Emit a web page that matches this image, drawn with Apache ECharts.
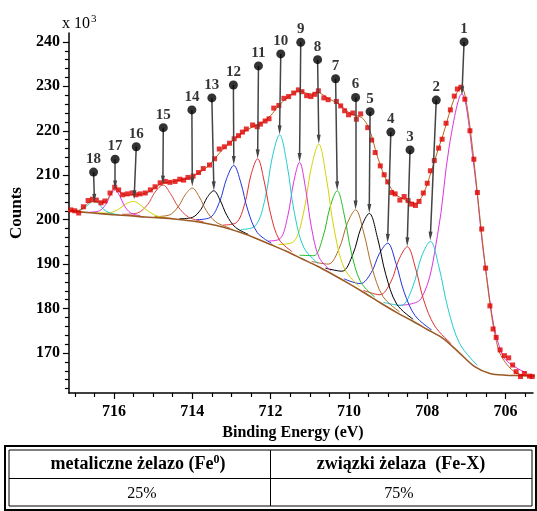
<!DOCTYPE html>
<html>
<head>
<meta charset="utf-8">
<script src="https://cdn.jsdelivr.net/npm/echarts@6/dist/echarts.min.js"></script>
<style>
html,body{margin:0;padding:0;background:#fff;}
#c{width:537px;height:511px;}
</style>
</head>
<body>
<div id="c"></div>
<script>
// ---------- data ----------
const xMajor = [706, 708, 710, 712, 714, 716];
const xMinor = [705.5, 706.5, 707, 707.5, 708.5, 709, 709.5, 710.5, 711, 711.5, 712.5, 713, 713.5, 714.5, 715, 715.5, 716.5, 717];
const yMajor = [170, 180, 190, 200, 210, 220, 230, 240];
const yMinor = [162, 164, 166, 168, 172, 174, 176, 178, 182, 184, 186, 188, 192, 194, 196, 198, 202, 204, 206, 208, 212, 214, 216, 218, 222, 224, 226, 228, 232, 234, 236, 238];

// background (Shirley) curve
const bgEV  = [717.2, 716.8, 716.4, 716.0, 715.6, 715.2, 714.8, 714.4, 714.0, 713.6, 713.2, 712.8, 712.4, 712.0, 711.6, 711.2, 710.8, 710.4, 710.0, 709.6, 709.2, 708.8, 708.4, 708.0, 707.6, 707.2, 706.8, 706.4, 706.0, 705.6, 705.2];
const bgVal = [202.0, 201.7, 201.4, 201.1, 200.9, 200.6, 200.4, 200.1, 199.7, 199.1, 198.3, 197.2, 195.9, 194.4, 192.9, 191.2, 189.5, 187.6, 185.6, 183.5, 181.3, 179.2, 177.3, 175.3, 173.3, 170.2, 167.0, 165.4, 165.0, 164.9, 164.8];

// measured points (red squares)
const dataEV  = [717.10, 717.00, 716.90, 716.78, 716.66, 716.55, 716.45, 716.33, 716.23, 716.10, 715.98, 715.88, 715.78, 715.66, 715.54, 715.44, 715.33, 715.20, 715.07, 714.95, 714.82, 714.69, 714.57, 714.44, 714.32, 714.22, 714.11, 713.98, 713.84, 713.72, 713.56, 713.43, 713.31, 713.18, 713.05, 712.93, 712.82, 712.72, 712.62, 712.46, 712.34, 712.26, 712.14, 712.04, 711.92, 711.79, 711.66, 711.54, 711.41, 711.29, 711.20, 711.08, 710.97, 710.87, 710.78, 710.64, 710.53, 710.32, 710.21, 710.11, 710.01, 709.90, 709.81, 709.70, 709.52, 709.42, 709.33, 709.20, 709.10, 709.01, 708.91, 708.82, 708.70, 708.59, 708.49, 708.40, 708.30, 708.21, 708.10, 708.00, 707.92, 707.82, 707.71, 707.62, 707.52, 707.41, 707.31, 707.23, 707.14, 707.04, 706.91, 706.81, 706.72, 706.61, 706.51, 706.40, 706.32, 706.24, 706.14, 706.03, 705.92, 705.82, 705.73, 705.62, 705.52, 705.39, 705.32];
const dataVal = [202.2, 202.0, 201.5, 202.9, 204.3, 204.6, 204.4, 203.8, 204.2, 206.0, 207.3, 206.7, 205.6, 205.8, 206.0, 205.6, 205.8, 206.0, 206.7, 207.4, 208.3, 208.6, 208.4, 208.6, 209.1, 208.9, 209.5, 209.8, 210.6, 211.5, 212.3, 213.7, 215.9, 216.4, 217.2, 218.2, 218.9, 219.7, 220.4, 221.3, 220.9, 221.5, 222.2, 222.7, 225.1, 225.7, 227.3, 227.7, 228.5, 229.2, 228.8, 227.9, 227.7, 228.2, 229.0, 227.4, 227.0, 226.6, 225.6, 224.5, 223.6, 224.0, 222.6, 223.8, 220.7, 217.9, 215.1, 212.1, 210.1, 208.5, 206.1, 205.8, 204.4, 205.2, 204.3, 203.5, 203.2, 204.1, 206.0, 208.2, 211.0, 213.3, 216.1, 218.1, 221.7, 224.7, 227.8, 229.4, 229.8, 227.1, 220.0, 213.6, 206.1, 197.9, 189.1, 180.6, 175.4, 173.5, 170.7, 169.4, 168.9, 167.3, 165.8, 164.7, 165.4, 164.8, 164.7];

// fitted envelope
const envEV  = [717.15, 717.0, 716.8, 716.6, 716.4, 716.25, 716.1, 715.97, 715.85, 715.7, 715.5, 715.3, 715.1, 714.9, 714.75, 714.6, 714.4, 714.2, 714.0, 713.8, 713.6, 713.4, 713.2, 713.0, 712.8, 712.6, 712.4, 712.2, 712.0, 711.8, 711.6, 711.4, 711.25, 711.1, 710.95, 710.8, 710.65, 710.5, 710.3, 710.1, 709.95, 709.8, 709.65, 709.5, 709.4, 709.3, 709.2, 709.1, 709.0, 708.9, 708.8, 708.6, 708.45, 708.3, 708.2, 708.1, 708.0, 707.9, 707.8, 707.7, 707.6, 707.5, 707.4, 707.3, 707.2, 707.12, 707.05, 706.95, 706.85, 706.75, 706.65, 706.55, 706.45, 706.35, 706.25, 706.15, 706.0, 705.85, 705.7, 705.5, 705.3];
const envVal = [201.9, 201.9, 202.5, 204.0, 204.0, 203.9, 205.5, 207.2, 206.2, 205.5, 205.6, 205.7, 206.3, 207.5, 208.3, 208.4, 208.7, 209.1, 209.7, 210.7, 212.0, 214.0, 216.0, 217.6, 219.0, 220.2, 221.1, 221.9, 223.4, 225.6, 227.3, 228.5, 229.0, 228.5, 228.3, 228.7, 228.0, 227.1, 226.3, 224.8, 223.8, 223.4, 222.8, 220.8, 218.2, 215.0, 212.3, 210.0, 208.2, 206.7, 205.6, 204.6, 204.0, 203.7, 204.3, 205.8, 208.0, 210.8, 213.6, 216.4, 219.0, 222.0, 225.0, 227.5, 229.2, 229.6, 228.5, 223.5, 216.5, 208.5, 200.0, 192.0, 184.5, 178.0, 173.2, 170.0, 167.8, 166.3, 165.4, 165.0, 164.9];

// fitted components 1..18
const compEV = [
  [705.46, 706.08, 706.50, 706.81, 707.12, 707.43, 707.74, 708.16, 708.78],
  [706.72, 707.17, 707.47, 707.70, 707.92, 708.15, 708.37, 708.67, 709.12],
  [707.39, 707.81, 708.09, 708.30, 708.51, 708.72, 708.93, 709.21, 709.63],
  [707.89, 708.31, 708.59, 708.80, 709.01, 709.22, 709.43, 709.71, 710.13],
  [708.36, 708.78, 709.06, 709.27, 709.48, 709.69, 709.90, 710.18, 710.60],
  [708.71, 709.13, 709.41, 709.62, 709.83, 710.04, 710.25, 710.53, 710.95],
  [709.34, 709.70, 709.94, 710.12, 710.30, 710.48, 710.66, 710.90, 711.26],
  [709.73, 710.12, 710.38, 710.58, 710.77, 710.97, 711.16, 711.42, 711.81],
  [710.46, 710.76, 710.96, 711.11, 711.26, 711.41, 711.56, 711.76, 712.06],
  [710.78, 711.15, 711.40, 711.58, 711.77, 711.96, 712.14, 712.39, 712.76],
  [711.45, 711.78, 712.00, 712.17, 712.33, 712.50, 712.66, 712.88, 713.21],
  [711.98, 712.34, 712.58, 712.76, 712.94, 713.12, 713.30, 713.54, 713.90],
  [712.57, 712.90, 713.12, 713.29, 713.45, 713.62, 713.78, 714.00, 714.33],
  [713.04, 713.40, 713.64, 713.82, 714.00, 714.18, 714.36, 714.60, 714.96],
  [713.71, 714.10, 714.36, 714.56, 714.75, 714.95, 715.14, 715.40, 715.79],
  [714.46, 714.85, 715.11, 715.31, 715.50, 715.70, 715.89, 716.15, 716.54],
  [715.33, 715.57, 715.73, 715.85, 715.97, 716.09, 716.21, 716.37, 716.61],
  [715.86, 716.10, 716.26, 716.38, 716.50, 716.62, 716.74, 716.90, 717.14]
];
const compVal = [
  [165.5, 169.5, 188.2, 212.1, 228.3, 217.0, 196.4, 182.2, 180.7],
  [167.2, 172.1, 180.0, 189.3, 195.1, 191.6, 184.9, 180.7, 181.4],
  [172.1, 176.1, 181.9, 189.1, 193.9, 191.1, 186.0, 183.1, 184.1],
  [175.2, 178.4, 183.7, 190.2, 194.7, 192.4, 188.1, 185.6, 186.7],
  [177.6, 181.0, 187.7, 195.9, 201.4, 198.2, 192.2, 188.4, 189.1],
  [179.3, 182.7, 189.2, 197.0, 202.2, 199.2, 193.5, 190.0, 190.6],
  [182.6, 186.0, 192.7, 201.1, 206.5, 202.9, 196.2, 191.9, 192.0],
  [184.9, 189.1, 198.0, 209.6, 217.0, 211.3, 201.5, 195.0, 194.4],
  [188.5, 191.5, 198.4, 207.2, 212.9, 208.5, 200.9, 195.7, 195.2],
  [190.1, 193.7, 201.9, 212.4, 219.1, 213.9, 204.7, 198.6, 197.8],
  [192.8, 195.5, 201.3, 208.9, 213.7, 210.1, 203.6, 199.3, 198.8],
  [194.7, 197.1, 202.1, 208.3, 212.2, 209.3, 204.1, 200.5, 200.0],
  [196.7, 198.3, 201.0, 204.4, 206.5, 205.0, 202.3, 200.5, 200.2],
  [198.1, 199.5, 202.0, 205.1, 207.1, 205.6, 202.9, 201.0, 200.7],
  [199.5, 200.6, 202.9, 205.9, 207.8, 206.2, 203.4, 201.5, 201.2],
  [200.2, 200.7, 201.8, 203.2, 204.1, 203.5, 202.3, 201.5, 201.6],
  [200.9, 201.5, 203.1, 205.3, 206.7, 205.5, 203.4, 202.0, 201.7],
  [201.1, 201.5, 202.3, 203.5, 204.2, 203.7, 202.7, 202.1, 202.0]
];

// peak labels: numbered dot and arrow pointing at the peak
const peakNums = ['1','2','3','4','5','6','7','8','9','10','11','12','13','14','15','16','17','18'];
const dotEV  = [707.06, 707.77, 708.44, 708.93, 709.46, 709.83, 710.34, 710.80, 711.23, 711.74, 712.31, 712.95, 713.50, 714.01, 714.74, 715.43, 715.97, 716.52];
const dotVal = [240.0, 226.9, 215.7, 219.7, 224.3, 227.5, 231.7, 236.0, 239.9, 237.3, 234.6, 230.3, 227.4, 224.7, 220.7, 216.4, 213.6, 210.7];
const tipEV  = [707.11, 707.92, 708.51, 709.01, 709.48, 709.83, 710.30, 710.77, 711.26, 711.77, 712.33, 712.94, 713.45, 714.00, 714.75, 715.48, 715.97, 716.50];
const tipVal = [229.0, 196.3, 195.0, 195.8, 202.5, 203.3, 207.6, 218.1, 214.0, 220.2, 214.8, 213.3, 207.6, 208.5, 208.9, 205.6, 207.8, 204.8];

// table
const tableHead = ['metaliczne żelazo (Fe', 'związki żelaza  (Fe-X)'];
const tableVals = ['25%', '75%'];

// ---------- chart ----------
const FONT = '"Liberation Serif", "Times New Roman", serif';
const compColors = ['#dd33dd', '#22cccc', '#e03030', '#2233dd', '#000000', '#b06a28', '#22bb22', '#d4d400',
                    '#dd33dd', '#22cccc', '#e03030', '#2233dd', '#000000', '#b06a28', '#d84848', '#d4d400', '#dd33dd', '#22cccc'];
const XMIN = 705.3, XMAX = 717.15, YMIN = 161, YMAX = 242;

const chart = echarts.init(document.getElementById('c'), null, {renderer: 'canvas'});

const series = [];
compEV.forEach((xs, i) => {
  series.push({
    type: 'line', name: 'c' + (i + 1), silent: true, z: 2,
    data: xs.map((x, j) => [x, compVal[i][j]]),
    smooth: 0.35, symbol: 'none',
    lineStyle: {color: compColors[i], width: 1}
  });
});
series.push({
  type: 'line', name: 'background', silent: true, z: 3,
  data: bgEV.map((x, i) => [x, bgVal[i]]),
  smooth: 0.3, symbol: 'none',
  lineStyle: {color: '#9b5a24', width: 1.6}
});
series.push({
  type: 'line', name: 'envelope', silent: true, z: 3,
  data: envEV.map((x, i) => [x, envVal[i]]),
  smooth: 0.3, symbol: 'none',
  lineStyle: {color: '#b5651d', width: 1}
});
series.push({
  type: 'scatter', name: 'data', silent: true, z: 4,
  data: dataEV.map((x, i) => [x, dataVal[i]]),
  symbol: 'rect', symbolSize: 5,
  itemStyle: {color: '#e00000'}
});
series.push({
  type: 'scatter', name: 'labels', silent: true, z: 6,
  data: dotEV.map((x, i) => [x, dotVal[i]]),
  symbol: 'circle', symbolSize: 9,
  itemStyle: {color: '#000'},
  label: {
    show: true, position: 'top', distance: 1,
    formatter: p => peakNums[p.dataIndex],
    fontFamily: FONT, fontWeight: 'bold', fontSize: 15, color: '#000'
  },
  markLine: {
    silent: true, animation: false,
    symbol: ['none', 'triangle'], symbolSize: [4, 9],
    label: {show: false},
    lineStyle: {color: '#444', width: 1.5, type: 'solid'},
    emphasis: {disabled: true},
    data: dotEV.map((x, i) => [{coord: [x, dotVal[i]]}, {coord: [tipEV[i], tipVal[i]]}])
  }
});

const axisFont = {fontFamily: FONT, fontWeight: 'bold', fontSize: 16, color: '#000'};

const option = {
  animation: false,
  backgroundColor: '#fff',
  grid: {left: 64, right: 4, top: 33, bottom: 118, containLabel: false},
  xAxis: [
    {
      type: 'value', min: XMIN, max: XMAX, inverse: true, position: 'bottom',
      axisLine: {onZero: false, lineStyle: {color: '#000', width: 1.5}},
      axisTick: {show: true, customValues: xMajor, length: 6, lineStyle: {color: '#000', width: 1.2}},
      axisLabel: Object.assign({customValues: xMajor, margin: 11}, axisFont),
      splitLine: {show: false},
      name: 'Binding Energy (eV)', nameLocation: 'middle', nameGap: 32,
      nameTextStyle: {fontFamily: FONT, fontWeight: 'bold', fontSize: 16, color: '#000', padding: [0, 16, 0, 0]}
    },
    {
      type: 'value', min: XMIN, max: XMAX, inverse: true, position: 'bottom', offset: 0,
      axisLine: {show: false, onZero: false},
      axisTick: {show: true, customValues: xMinor, length: 4, lineStyle: {color: '#000', width: 1.2}},
      axisLabel: {show: false},
      splitLine: {show: false}
    }
  ],
  yAxis: [
    {
      type: 'value', min: YMIN, max: YMAX, position: 'left',
      axisLine: {show: true, onZero: false, lineStyle: {color: '#000', width: 1.5}},
      axisTick: {show: true, customValues: yMajor, length: 6, lineStyle: {color: '#000', width: 1.2}},
      axisLabel: Object.assign({customValues: yMajor, margin: 9}, axisFont),
      splitLine: {show: false},
      name: 'Counts', nameLocation: 'middle', nameGap: 36,
      nameTextStyle: {fontFamily: FONT, fontWeight: 'bold', fontSize: 17, color: '#000'}
    },
    {
      type: 'value', min: YMIN, max: YMAX, position: 'left', offset: 0,
      axisLine: {show: false, onZero: false},
      axisTick: {show: true, customValues: yMinor, length: 4, lineStyle: {color: '#000', width: 1.2}},
      axisLabel: {show: false},
      splitLine: {show: false}
    }
  ],
  series: series,
  graphic: [
    {type: 'text', left: 62, top: 14, silent: true,
     style: {text: '{a|x 10}{s|3}', rich: {
       a: {fontFamily: FONT, fontSize: 16, fill: '#000', color: '#000'},
       s: {fontFamily: FONT, fontSize: 11, fill: '#000', color: '#000', padding: [0, 0, 9, 1]}
     }}},
    // table frame
    {type: 'rect', silent: true, shape: {x: 5, y: 446, width: 531, height: 64}, style: {fill: 'none', stroke: '#000', lineWidth: 2}},
    {type: 'rect', silent: true, shape: {x: 9, y: 450, width: 523, height: 56}, style: {fill: 'none', stroke: '#000', lineWidth: 1}},
    {type: 'line', silent: true, shape: {x1: 9, y1: 478.5, x2: 532, y2: 478.5}, style: {stroke: '#000', lineWidth: 1}},
    {type: 'line', silent: true, shape: {x1: 270.5, y1: 450, x2: 270.5, y2: 506}, style: {stroke: '#000', lineWidth: 1}},
    {type: 'text', silent: true, x: 138, y: 464,
     style: {text: '{b|' + tableHead[0] + '}{s|0}{b|)}', align: 'center', verticalAlign: 'middle', rich: {
       b: {fontFamily: FONT, fontWeight: 'bold', fontSize: 18, fill: '#000', color: '#000'},
       s: {fontFamily: FONT, fontWeight: 'bold', fontSize: 12, fill: '#000', color: '#000', padding: [0, 0, 8, 0]}
     }}},
    {type: 'text', silent: true, x: 401, y: 464,
     style: {text: tableHead[1], align: 'center', verticalAlign: 'middle', font: 'bold 18px ' + FONT, fill: '#000'}},
    {type: 'text', silent: true, x: 142, y: 494,
     style: {text: tableVals[0], align: 'center', verticalAlign: 'middle', font: '16px ' + FONT, fill: '#000'}},
    {type: 'text', silent: true, x: 399, y: 494,
     style: {text: tableVals[1], align: 'center', verticalAlign: 'middle', font: '16px ' + FONT, fill: '#000'}}
  ]
};
chart.setOption(option);
</script>
</body>
</html>
